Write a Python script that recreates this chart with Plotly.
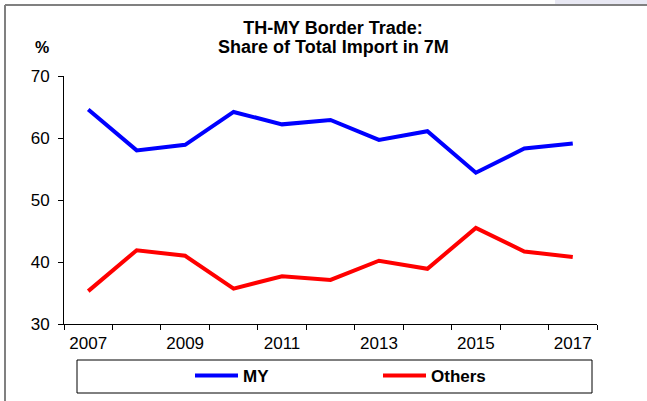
import plotly.graph_objects as go

years = [2007, 2008, 2009, 2010, 2011, 2012, 2013, 2014, 2015, 2016, 2017]
my_share = [64.6, 58.0, 58.9, 64.2, 62.2, 62.9, 59.7, 61.1, 54.4, 58.3, 59.1]
others_share = [35.3, 41.9, 41.0, 35.7, 37.7, 37.1, 40.2, 38.9, 45.5, 41.7, 40.8]
year_labels = ["2007", "2009", "2011", "2013", "2015", "2017"]
label_years = [2007, 2009, 2011, 2013, 2015, 2017]
title_lines = ["TH-MY Border Trade:", "Share of Total Import in 7M"]

FONT = "Arial, Liberation Sans, sans-serif"
W, H = 647, 401
L, T, PW, PH = 64, 76, 533, 248   # plot area in pixels


def px_x(p):
    return (p - L) / PW


def px_y(p):
    return (T + PH - p) / PH


fig = go.Figure()
fig.add_trace(go.Scatter(x=years, y=my_share, mode="lines", name="<b>MY</b>",
                         line=dict(color="#0000FF", width=4)))
fig.add_trace(go.Scatter(x=years, y=others_share, mode="lines", name="<b>Others</b>",
                         line=dict(color="#FF0000", width=4)))

fig.update_layout(
    width=W, height=H,
    margin=dict(l=L, r=W - L - PW, t=T, b=H - T - PH, autoexpand=False),
    paper_bgcolor="white", plot_bgcolor="white",
    font=dict(family=FONT, size=17, color="black"),
    title=dict(text="<b>" + title_lines[0] + "</b>",
               x=333 / W, xanchor="center", y=1 - 28 / H, yanchor="middle",
               font=dict(family=FONT, size=18, color="black")),
    showlegend=True,
    legend=dict(orientation="h", xref="container", yref="container",
                x=190 / W, xanchor="left", y=1 - 376 / H, yanchor="middle",
                bgcolor="rgba(0,0,0,0)", borderwidth=0, itemwidth=43,
                entrywidth=130, entrywidthmode="pixels",
                font=dict(family=FONT, size=17, color="black")),
    xaxis=dict(range=[2006.5, 2017.5], tickmode="array",
               tickvals=label_years, ticktext=year_labels,
               ticks="", showline=True, linecolor="black", linewidth=1,
               showgrid=False, zeroline=False, ticklabelstandoff=4,
               automargin=False, tickfont=dict(family=FONT, size=17),
               minor=dict(tick0=2006.5, dtick=1, ticks="outside", ticklen=5,
                          tickcolor="black", showgrid=False)),
    yaxis=dict(range=[30, 70], dtick=10, ticks="outside", ticklen=5,
               tickcolor="black", showline=True, linecolor="black", linewidth=1,
               showgrid=False, zeroline=False, ticklabelstandoff=5,
               automargin=False, tickfont=dict(family=FONT, size=17)),
)

# second title line
fig.add_annotation(text="<b>" + title_lines[1] + "</b>", xref="paper", yref="paper",
                   x=px_x(333), y=px_y(47.5), showarrow=False,
                   font=dict(family=FONT, size=18), xanchor="center", yanchor="middle")

# unit label above the value axis
fig.add_annotation(text="<b>%</b>", xref="paper", yref="paper",
                   x=px_x(42), y=px_y(47), showarrow=False,
                   font=dict(family=FONT, size=16), xanchor="center", yanchor="middle")

# light band at the top-right corner
fig.add_shape(type="rect", xref="paper", yref="paper",
              x0=px_x(555), x1=px_x(647), y0=px_y(0), y1=px_y(4.5),
              fillcolor="#e8e8f3", line=dict(width=0))
# frame edges (left and top)
fig.add_shape(type="line", xref="paper", yref="paper",
              x0=px_x(5), x1=px_x(5), y0=px_y(5), y1=px_y(401),
              line=dict(color="#808080", width=2))
fig.add_shape(type="line", xref="paper", yref="paper",
              x0=px_x(5), x1=px_x(647), y0=px_y(5), y1=px_y(5),
              line=dict(color="#808080", width=2))
# legend frame
fig.add_shape(type="rect", xref="paper", yref="paper",
              x0=px_x(77), x1=px_x(592), y0=px_y(360), y1=px_y(393),
              line=dict(color="black", width=1), fillcolor="rgba(0,0,0,0)")

fig.write_html("out.html")
